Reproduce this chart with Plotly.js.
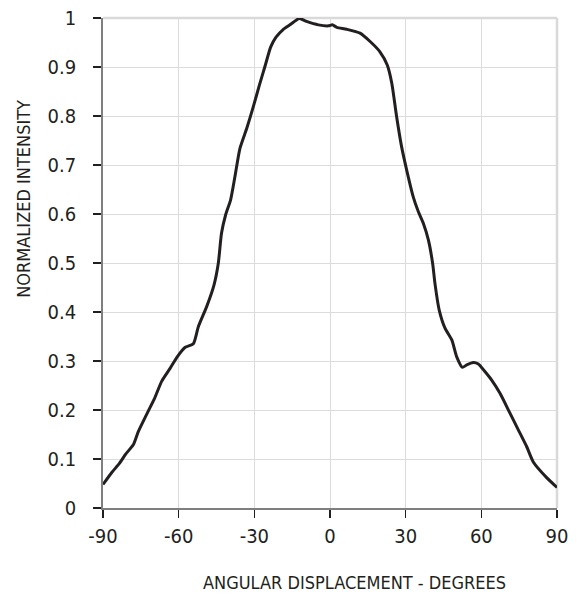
<!DOCTYPE html>
<html>
<head>
<meta charset="utf-8">
<script src="https://cdn.plot.ly/plotly-3.0.1.min.js"></script>
<style>
  html, body { margin: 0; padding: 0; background: #fff; }
  #chart { width: 579px; height: 599px; }
</style>
</head>
<body>
<div id="chart"></div>
<script>
// Angular displacement (degrees)
const angleDeg = [-90, -86.6, -83.5, -81, -78, -76, -73, -69.7, -66.7, -63.4, -60.5, -57.4, -54.2, -52.2, -48.9, -46, -44.3,
  -43, -41.4, -39.4, -37.7, -35.7, -33, -30.4, -28, -25.8, -23.5, -21.4, -18.7, -15.9, -12.2, -9.3, -4.6,
  -0.6, 0.9, 2.7, 6.6, 11.9, 15.9, 19.8, 22.7, 24.5, 26.4, 28.4, 30.7, 33.0, 35, 37, 39, 40.7,
  41.6, 43.3, 45.6, 48.3, 50.2, 52.5, 54.2, 56.8, 58.8, 61.5, 64.1, 67.4, 71.4, 74.7, 78, 80.6, 85.9, 90];
// Normalized intensity
const intensity = [0.048, 0.072, 0.091, 0.110, 0.129, 0.156, 0.188, 0.222, 0.259, 0.285, 0.309, 0.328, 0.335, 0.370, 0.411, 0.455, 0.499,
  0.561, 0.598, 0.629, 0.676, 0.734, 0.775, 0.819, 0.863, 0.901, 0.941, 0.961, 0.976, 0.986, 0.999, 0.993, 0.986,
  0.984, 0.986, 0.981, 0.977, 0.969, 0.952, 0.931, 0.904, 0.867, 0.799, 0.737, 0.683, 0.635, 0.605, 0.581, 0.547, 0.499,
  0.459, 0.404, 0.367, 0.343, 0.309, 0.287, 0.292, 0.297, 0.294, 0.278, 0.261, 0.234, 0.193, 0.159, 0.125, 0.094, 0.062, 0.042];

const xTicks = [-90, -60, -30, 0, 30, 60, 90];
const yTicks = [0, 0.1, 0.2, 0.3, 0.4, 0.5, 0.6, 0.7, 0.8, 0.9, 1];
const xTitle = 'ANGULAR DISPLACEMENT - DEGREES';
const yTitle = 'NORMALIZED INTENSITY';

const FONT = '"DejaVu Sans Condensed", "DejaVu Sans", sans-serif';

const trace = {
  x: angleDeg,
  y: intensity,
  type: 'scatter',
  mode: 'lines',
  line: { color: '#231f20', width: 3, shape: 'spline', smoothing: 0.6 },
  hoverinfo: 'skip'
};

const layout = {
  width: 579,
  height: 599,
  margin: { l: 103, r: 22, t: 18, b: 91 },
  paper_bgcolor: '#ffffff',
  plot_bgcolor: '#ffffff',
  showlegend: false,
  font: { family: FONT, size: 20, color: '#231f20' },
  xaxis: {
    range: [-90, 90],
    tickmode: 'array',
    tickvals: xTicks,
    ticktext: xTicks.map(String),
    showgrid: true,
    gridcolor: '#dcdcdc',
    gridwidth: 1,
    zeroline: false,
    showline: true,
    linecolor: '#7f7f7f',
    linewidth: 1.8,
    ticks: 'outside',
    ticklen: 8,
    tickwidth: 1.3,
    tickcolor: '#231f20',
    ticklabelstandoff: 1,
    tickfont: { family: FONT, size: 20, color: '#231f20' },
    fixedrange: true
  },
  yaxis: {
    range: [0, 1],
    tickmode: 'array',
    tickvals: yTicks,
    ticktext: yTicks.map(String),
    showgrid: true,
    gridcolor: '#dcdcdc',
    gridwidth: 1,
    zeroline: false,
    showline: true,
    linecolor: '#7f7f7f',
    linewidth: 1.8,
    ticks: 'outside',
    ticklen: 8,
    tickwidth: 1.3,
    tickcolor: '#231f20',
    ticklabelstandoff: 13,
    tickfont: { family: FONT, size: 20, color: '#231f20' },
    fixedrange: true
  },
  shapes: [
    { type: 'line', xref: 'paper', yref: 'paper', x0: 0, x1: 1, y0: 1, y1: 1,
      line: { color: '#d9d9d9', width: 2.5 }, layer: 'below' },
    { type: 'line', xref: 'paper', yref: 'paper', x0: 1, x1: 1, y0: 0, y1: 1,
      line: { color: '#d9d9d9', width: 2.5 }, layer: 'below' }
  ],
  annotations: [
    { text: xTitle, xref: 'paper', yref: 'paper', x: 0.553, y: -0.153,
      xanchor: 'center', yanchor: 'middle', showarrow: false,
      font: { family: FONT, size: 18, color: '#231f20' } },
    { text: yTitle, xref: 'paper', yref: 'paper', x: -0.174, y: 0.631,
      xanchor: 'center', yanchor: 'middle', showarrow: false, textangle: -90,
      font: { family: FONT, size: 18, color: '#231f20' } }
  ]
};

Plotly.newPlot('chart', [trace], layout, { displayModeBar: false, staticPlot: true });
</script>
</body>
</html>
